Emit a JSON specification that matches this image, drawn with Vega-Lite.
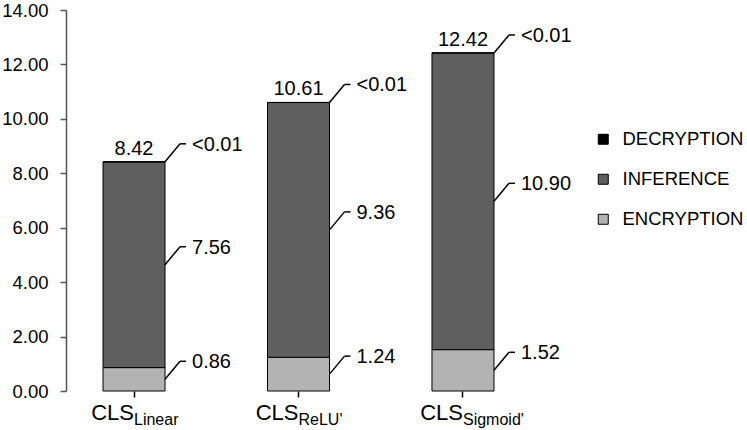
{
  "$schema": "https://vega.github.io/schema/vega-lite/v6.json",
  "autosize": {"type": "none"},
  "width": 465,
  "height": 381,
  "padding": {"left": 66, "top": 10, "right": 216, "bottom": 39},
  "background": "white",
  "config": {
    "view": {"stroke": null},
    "font": "Liberation Sans",
    "legend": {
      "orient": "none",
      "legendX": 528,
      "legendY": 120,
      "symbolType": "square",
      "symbolSize": 100,
      "symbolStrokeColor": "#000000",
      "symbolStrokeWidth": 1,
      "labelFontSize": 18.5,
      "labelColor": "#000000",
      "labelOffset": 10,
      "rowPadding": 21
    }
  },
  "datasets": {
    "phases": [
      {"cls": "Linear", "phase": "ENCRYPTION", "step": 1, "value": 0.86, "label": "0.86"},
      {"cls": "Linear", "phase": "INFERENCE", "step": 2, "value": 7.56, "label": "7.56"},
      {"cls": "Linear", "phase": "DECRYPTION", "step": 3, "value": 0.004, "label": "<0.01"},
      {"cls": "ReLU'", "phase": "ENCRYPTION", "step": 1, "value": 1.24, "label": "1.24"},
      {"cls": "ReLU'", "phase": "INFERENCE", "step": 2, "value": 9.36, "label": "9.36"},
      {"cls": "ReLU'", "phase": "DECRYPTION", "step": 3, "value": 0.004, "label": "<0.01"},
      {"cls": "Sigmoid'", "phase": "ENCRYPTION", "step": 1, "value": 1.52, "label": "1.52"},
      {"cls": "Sigmoid'", "phase": "INFERENCE", "step": 2, "value": 10.90, "label": "10.90"},
      {"cls": "Sigmoid'", "phase": "DECRYPTION", "step": 3, "value": 0.004, "label": "<0.01"}
    ],
    "totals": [
      {"cls": "Linear", "total": 8.42},
      {"cls": "ReLU'", "total": 10.61},
      {"cls": "Sigmoid'", "total": 12.42}
    ]
  },
  "layer": [
    {
      "data": {"name": "phases"},
      "transform": [
        {"stack": "value", "groupby": ["cls"], "sort": [{"field": "step", "order": "ascending"}], "as": ["y0", "y1"]}
      ],
      "mark": {"type": "bar", "stroke": "#000000", "strokeWidth": 1},
      "encoding": {
        "x": {
          "field": "cls",
          "type": "nominal",
          "sort": ["Linear", "ReLU'", "Sigmoid'"],
          "scale": {"paddingInner": 0.623, "paddingOuter": 0.225},
          "axis": {"title": null, "domain": false, "labels": false, "ticks": true, "tickSize": 6, "tickColor": "#000000", "tickWidth": 1.5, "tickBand": "center"}
        },
        "y": {
          "field": "y1",
          "type": "quantitative",
          "scale": {"domain": [0, 14], "nice": false},
          "axis": {
            "values": [0, 2, 4, 6, 8, 10, 12, 14],
            "format": ".2f",
            "title": null,
            "grid": false,
            "labelFontSize": 18.5,
            "labelColor": "#000000",
            "labelPadding": 12,
            "tickSize": 6,
            "tickColor": "#555555",
            "tickWidth": 1.5,
            "domainColor": "#555555",
            "domainWidth": 1.5
          }
        },
        "y2": {"field": "y0"},
        "color": {
          "field": "phase",
          "type": "nominal",
          "scale": {"domain": ["DECRYPTION", "INFERENCE", "ENCRYPTION"], "range": ["#000000", "#5f5f5f", "#b3b3b3"]},
          "legend": {"title": null}
        }
      }
    },
    {
      "data": {"name": "phases"},
      "transform": [
        {"stack": "value", "groupby": ["cls"], "sort": [{"field": "step", "order": "ascending"}], "as": ["y0", "y1"]},
        {"calculate": "(datum.y0 + datum.y1) / 2", "as": "mid"}
      ],
      "mark": {"type": "rule", "color": "#000000", "strokeWidth": 1.5, "xOffset": 31, "x2Offset": 46, "y2Offset": -18},
      "encoding": {
        "x": {"field": "cls", "type": "nominal", "sort": ["Linear", "ReLU'", "Sigmoid'"]},
        "x2": {"field": "cls"},
        "y": {"field": "mid", "type": "quantitative"},
        "y2": {"field": "mid"}
      }
    },
    {
      "data": {"name": "phases"},
      "transform": [
        {"stack": "value", "groupby": ["cls"], "sort": [{"field": "step", "order": "ascending"}], "as": ["y0", "y1"]},
        {"calculate": "(datum.y0 + datum.y1) / 2", "as": "mid"}
      ],
      "mark": {"type": "rule", "color": "#000000", "strokeWidth": 1.5, "xOffset": 46, "x2Offset": 52, "yOffset": -18},
      "encoding": {
        "x": {"field": "cls", "type": "nominal", "sort": ["Linear", "ReLU'", "Sigmoid'"]},
        "x2": {"field": "cls"},
        "y": {"field": "mid", "type": "quantitative"}
      }
    },
    {
      "data": {"name": "phases"},
      "transform": [
        {"stack": "value", "groupby": ["cls"], "sort": [{"field": "step", "order": "ascending"}], "as": ["y0", "y1"]},
        {"calculate": "(datum.y0 + datum.y1) / 2", "as": "mid"}
      ],
      "mark": {"type": "text", "align": "left", "baseline": "middle", "dx": 58, "dy": -17, "fontSize": 20, "color": "#000000"},
      "encoding": {
        "x": {"field": "cls", "type": "nominal", "sort": ["Linear", "ReLU'", "Sigmoid'"]},
        "y": {"field": "mid", "type": "quantitative"},
        "text": {"field": "label"}
      }
    },
    {
      "data": {"name": "totals"},
      "mark": {"type": "text", "align": "center", "baseline": "alphabetic", "dy": -7, "fontSize": 20, "color": "#000000"},
      "encoding": {
        "x": {"field": "cls", "type": "nominal", "sort": ["Linear", "ReLU'", "Sigmoid'"]},
        "y": {"field": "total", "type": "quantitative"},
        "text": {"field": "total", "format": ".2f"}
      }
    },
    {
      "data": {"name": "totals"},
      "mark": {"type": "text", "align": "right", "baseline": "alphabetic", "dy": 29, "fontSize": 22, "color": "#000000"},
      "encoding": {
        "x": {"field": "cls", "type": "nominal", "sort": ["Linear", "ReLU'", "Sigmoid'"]},
        "y": {"datum": 0, "type": "quantitative"},
        "text": {"value": "CLS"}
      }
    },
    {
      "data": {"name": "totals"},
      "mark": {"type": "text", "align": "left", "baseline": "alphabetic", "dy": 34, "fontSize": 16, "color": "#000000"},
      "encoding": {
        "x": {"field": "cls", "type": "nominal", "sort": ["Linear", "ReLU'", "Sigmoid'"]},
        "y": {"datum": 0, "type": "quantitative"},
        "text": {"field": "cls"}
      }
    }
  ]
}
